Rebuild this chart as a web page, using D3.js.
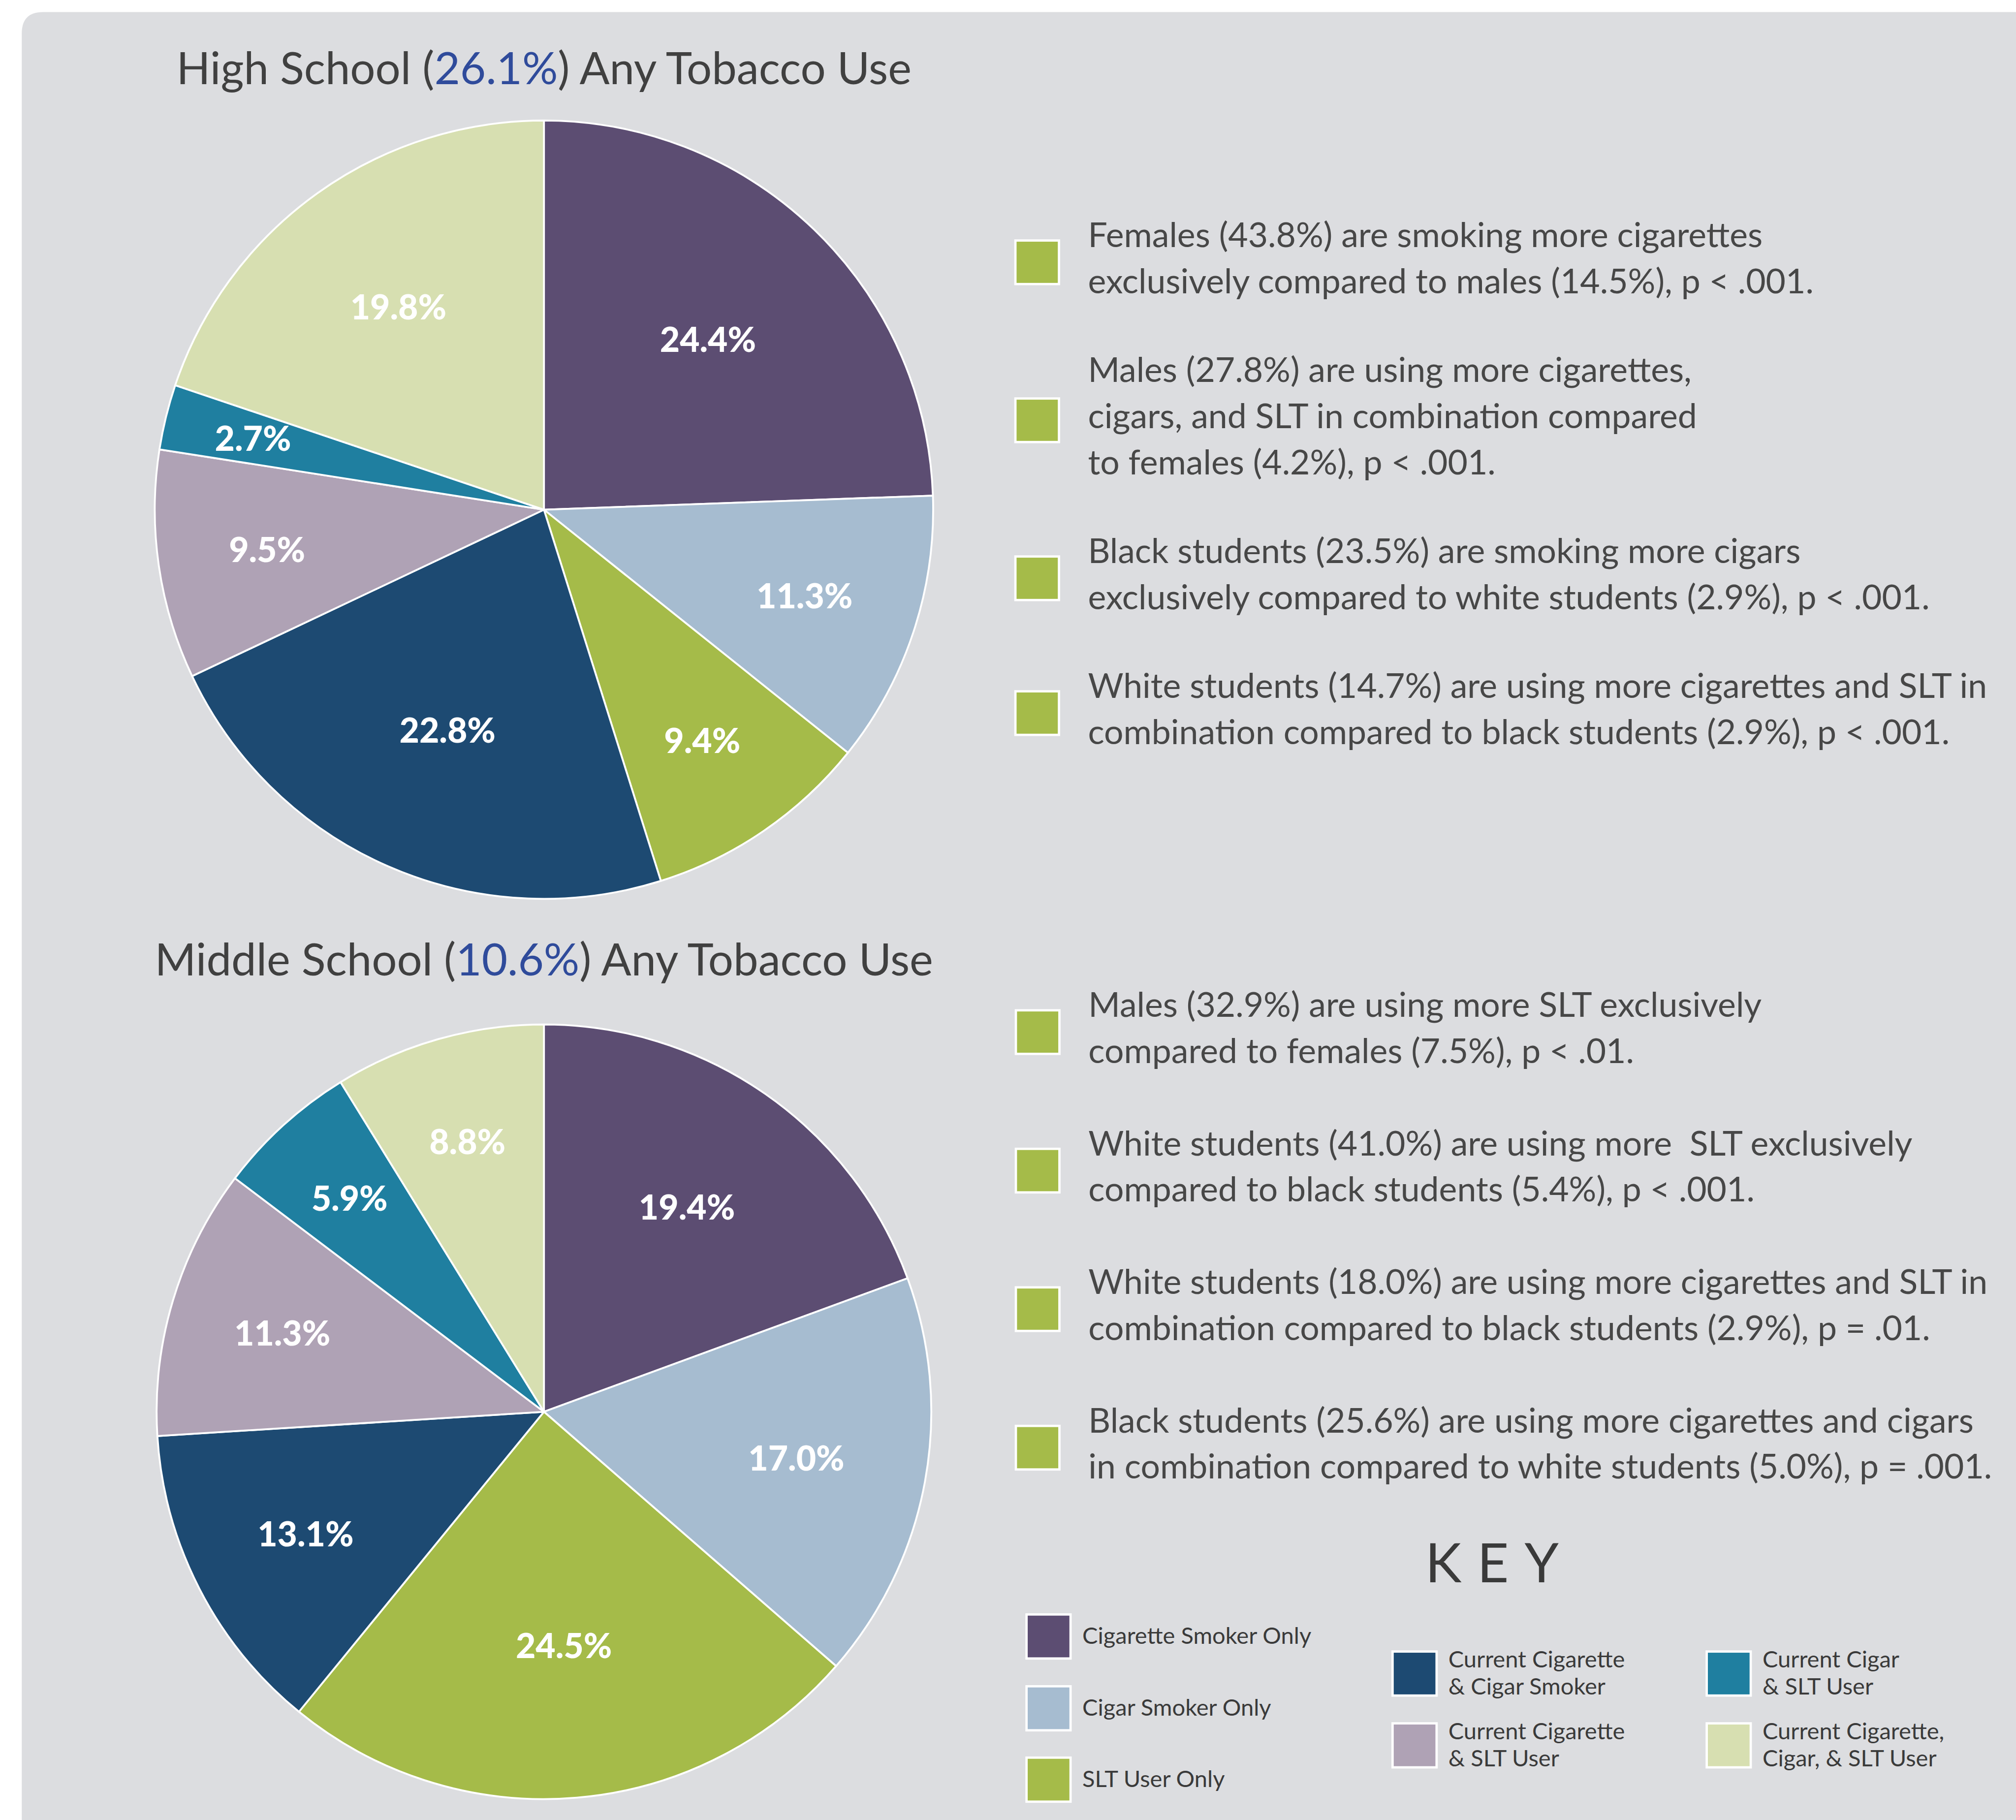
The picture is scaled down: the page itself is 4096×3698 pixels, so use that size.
<!DOCTYPE html>
<html>
<head>
<meta charset="utf-8">
<script src="https://cdn.jsdelivr.net/npm/d3@7"></script>
<style>
  html, body { margin: 0; padding: 0; background: #fff; }
  svg { display: block; }
  text { font-family: Lato, "Open Sans", sans-serif; white-space: pre; }
</style>
</head>
<body>
<div id="chart"></div>
<script>
// categories, in pie order (clockwise from 12 o'clock)
const categories = [
  "Cigarette Smoker Only",
  "Cigar Smoker Only",
  "SLT User Only",
  "Current Cigarette & Cigar Smoker",
  "Current Cigarette & SLT User",
  "Current Cigar & SLT User",
  "Current Cigarette, Cigar, & SLT User"
];
const cat_colors = ["#5c4d72", "#a6bcd0", "#a5bb49", "#1d4a72", "#afa2b5", "#1f7fa0", "#d7dfb1"];

const high_school = [24.4, 11.3, 9.4, 22.8, 9.5, 2.7, 19.8];
const middle_school = [19.4, 17.0, 24.5, 13.1, 11.3, 5.9, 8.8];

const titles = ["High School", "Middle School"];
const title_values = ["26.1%", "10.6%"];

const hs_notes = [
  ["Females (43.8%) are smoking more cigarettes", "exclusively compared to males (14.5%), p < .001."],
  ["Males (27.8%) are using more cigarettes,", "cigars, and SLT in combination compared", "to females (4.2%), p < .001."],
  ["Black students (23.5%) are smoking more cigars", "exclusively compared to white students (2.9%), p < .001."],
  ["White students (14.7%) are using more cigarettes and SLT in", "combination compared to black students (2.9%), p < .001."]
];
const ms_notes = [
  ["Males (32.9%) are using more SLT exclusively", "compared to females (7.5%), p < .01."],
  ["White students (41.0%) are using more  SLT exclusively", "compared to black students (5.4%), p < .001."],
  ["White students (18.0%) are using more cigarettes and SLT in", "combination compared to black students (2.9%), p = .01."],
  ["Black students (25.6%) are using more cigarettes and cigars", "in combination compared to white students (5.0%), p = .001."]
];

// key labels, split into lines as printed
const key_labels = [
  ["Cigarette Smoker Only"],
  ["Cigar Smoker Only"],
  ["SLT User Only"],
  ["Current Cigarette", "& Cigar Smoker"],
  ["Current Cigarette", "& SLT User"],
  ["Current Cigar", "& SLT User"],
  ["Current Cigarette,", "Cigar, & SLT User"]
];

const W = 4351, H = 3928;
const text_color = "#404040";
const title_blue = "#2f4b9b";

const svg = d3.select("#chart").append("svg")
  .attr("width", 4096)
  .attr("height", 3698)
  .attr("viewBox", "0 0 " + W + " " + H);

// grey panel with rounded top-left corner
const px = 47, py = 26, pr = 46;
svg.append("path")
  .attr("d", "M" + px + "," + H + " L" + px + "," + (py + pr) +
    " Q" + px + "," + py + " " + (px + pr) + "," + py +
    " L" + W + "," + py + " L" + W + "," + H + " Z")
  .attr("fill", "#dcdde0");

function drawPie(values, cx, cy, r, title, tval, titleY) {
  let g = svg.append("g").attr("transform", "translate(" + cx + "," + cy + ")");
  let pie = d3.pie().sort(null).value(d => d);
  let arc = d3.arc().innerRadius(0).outerRadius(r);
  let arcs = pie(values);

  g.selectAll(".slice")
    .data(arcs)
    .enter().append("path")
    .attr("class", "slice")
    .attr("d", arc)
    .attr("fill", (d, i) => cat_colors[i])
    .attr("stroke", "#fff")
    .attr("stroke-width", 4)
    .attr("stroke-linejoin", "round");

  // small slices get their label pushed further out
  g.selectAll(".lbl")
    .data(arcs)
    .enter().append("text")
    .attr("class", "lbl")
    .attr("transform", d => {
      let lr = r * (0.79 - 0.0075 * d.value);
      let a = (d.startAngle + d.endAngle) / 2;
      return "translate(" + (lr * Math.sin(a)) + "," + (-lr * Math.cos(a)) + ")";
    })
    .attr("text-anchor", "middle")
    .attr("dy", "0.36em")
    .attr("fill", "#fff")
    .attr("font-weight", 900)
    .attr("font-size", 74)
    .text(d => d.value.toFixed(1) + "%");

  let t = svg.append("text")
    .attr("x", cx)
    .attr("y", titleY)
    .attr("text-anchor", "middle")
    .attr("font-size", 96)
    .attr("fill", text_color);
  t.append("tspan").text(title + " (");
  t.append("tspan").attr("fill", title_blue).text(tval);
  t.append("tspan").text(") Any Tobacco Use");
}

drawPie(high_school, 1174, 1100, 840, titles[0], title_values[0], 182);
drawPie(middle_school, 1174, 3047, 836, titles[1], title_values[1], 2105);

function drawNotes(notes, x0, firstBase, lineH, gap) {
  let base = firstBase;
  notes.forEach(lines => {
    let mid = base + (lines.length - 1) * lineH / 2;
    svg.append("rect")
      .attr("x", x0 + 2.5)
      .attr("y", mid - 17 - 47)
      .attr("width", 94)
      .attr("height", 94)
      .attr("fill", cat_colors[2])
      .attr("stroke", "#fff")
      .attr("stroke-width", 5);
    let t = svg.append("text")
      .attr("font-size", 74)
      .attr("fill", "#474747");
    lines.forEach((ln, j) => {
      t.append("tspan")
        .attr("x", x0 + 159)
        .attr("y", base + j * lineH)
        .text(ln);
    });
    base += (lines.length - 1) * lineH + gap;
  });
}

drawNotes(hs_notes, 2189, 533, 100, 191);
drawNotes(ms_notes, 2190, 2195, 99, 200);

// key
svg.append("text")
  .attr("x", 3076)
  .attr("y", 3415)
  .attr("font-size", 118)
  .attr("letter-spacing", 34)
  .attr("fill", "#3a3a3a")
  .text("KEY");

const key_cols = [2213, 3003, 3681];
const key_rows = [[3532, 3687, 3841], [3612, 3767]];
let key_pos = [];
key_rows[0].forEach(y => key_pos.push([key_cols[0], y]));
key_pos.push([key_cols[1], key_rows[1][0]]);
key_pos.push([key_cols[1], key_rows[1][1]]);
key_pos.push([key_cols[2], key_rows[1][0]]);
key_pos.push([key_cols[2], key_rows[1][1]]);

const key = svg.append("g");
key_labels.forEach((lines, i) => {
  let [x, cy] = key_pos[i];
  key.append("rect")
    .attr("x", x + 2.5)
    .attr("y", cy - 47.5)
    .attr("width", 95)
    .attr("height", 95)
    .attr("fill", cat_colors[i])
    .attr("stroke", "#fff")
    .attr("stroke-width", 5);
  let t = key.append("text")
    .attr("font-size", 50)
    .attr("fill", "#3a3a3a");
  lines.forEach((ln, j) => {
    t.append("tspan")
      .attr("x", x + 123)
      .attr("y", cy + 16 + (j - (lines.length - 1) / 2) * 58)
      .text(ln);
  });
});
</script>
</body>
</html>
